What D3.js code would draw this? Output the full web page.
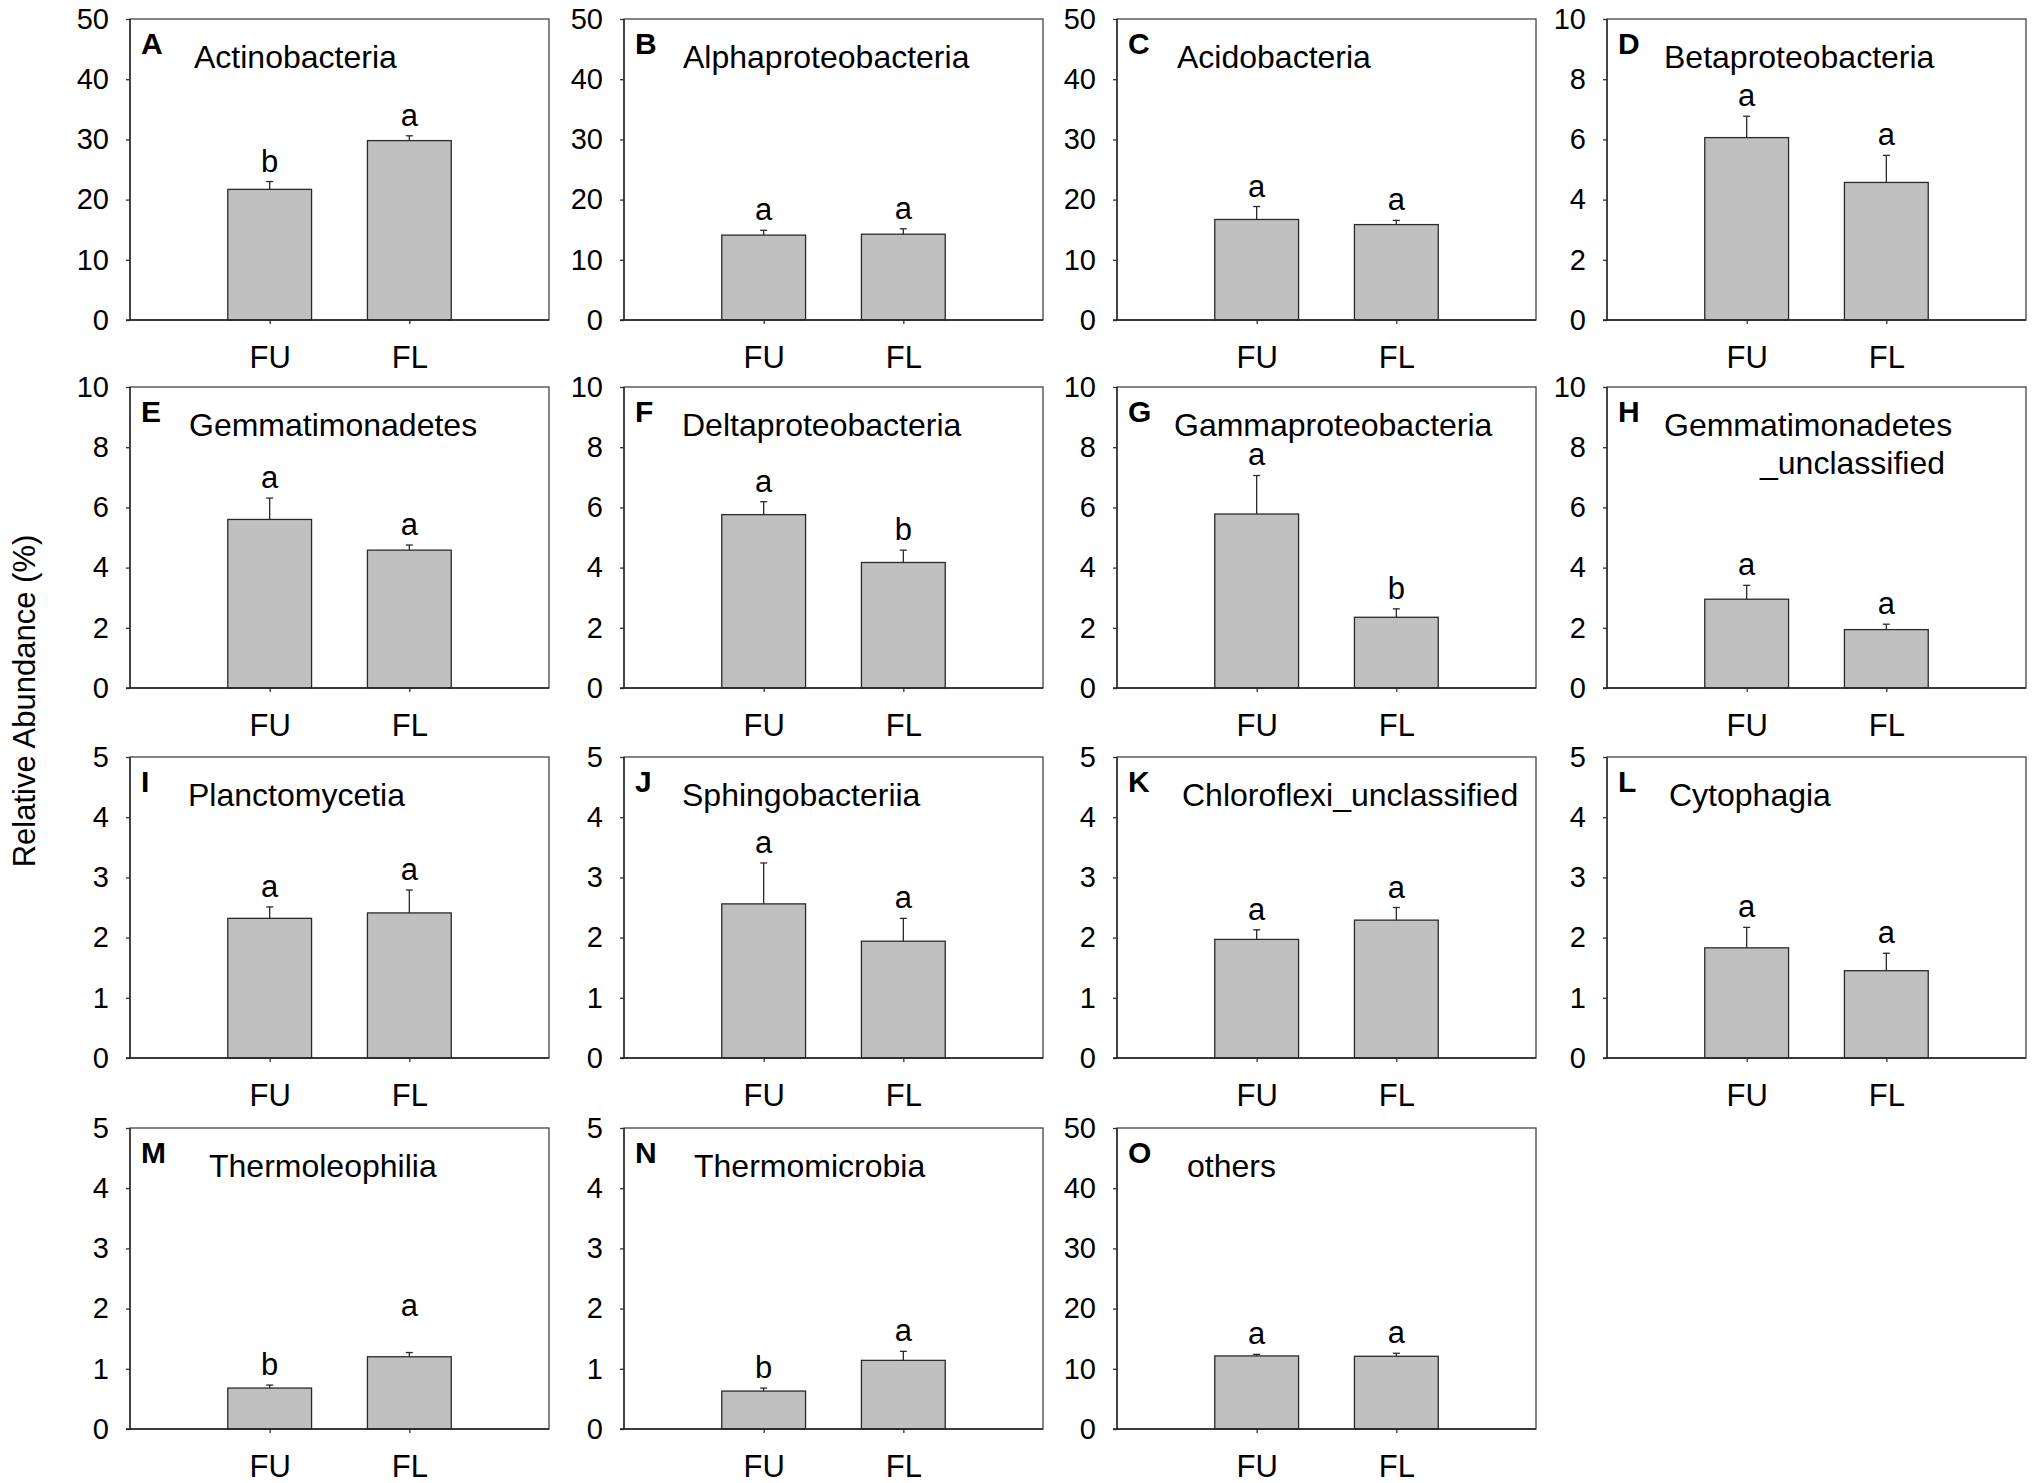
<!DOCTYPE html>
<html>
<head>
<meta charset="utf-8">
<script src="https://cdn.jsdelivr.net/npm/d3@7"></script>
<style>
  html, body { margin: 0; padding: 0; background: #fff; }
  svg { display: block; font-family: "Liberation Sans", Arial, Helvetica, sans-serif; }
</style>
</head>
<body>
<svg id="chart" width="2033" height="1483"></svg>
<script>
// ---- data ----
const panelLetters = ["A","B","C","D","E","F","G","H","I","J","K","L","M","N","O"];
const taxa = ["Actinobacteria","Alphaproteobacteria","Acidobacteria","Betaproteobacteria",
  "Gemmatimonadetes","Deltaproteobacteria","Gammaproteobacteria","Gemmatimonadetes\n_unclassified",
  "Planctomycetia","Sphingobacteriia","Chloroflexi_unclassified","Cytophagia",
  "Thermoleophilia","Thermomicrobia","others"];
const groups = ["FU","FL"];
const yMax  = [50,50,50,10, 10,10,10,10, 5,5,5,5, 5,5,50];
const yStep = [10,10,10,2,  2,2,2,2,     1,1,1,1, 1,1,10];
const fuMean = [21.7,14.1,16.7,6.06, 5.60,5.76,5.78,2.95, 2.32,2.56,1.97,1.83, 0.68,0.63,12.14];
const fuSE   = [1.3, 0.8, 2.15,0.71, 0.71,0.43,1.28,0.46, 0.19,0.68,0.16,0.34, 0.05,0.05,0.26];
const flMean = [29.8,14.25,15.85,4.57, 4.58,4.17,2.35,1.94, 2.41,1.94,2.29,1.45, 1.20,1.14,12.08];
const flSE   = [0.8, 0.9, 0.7, 0.9,  0.17,0.41,0.28,0.18, 0.38,0.38,0.21,0.29, 0.07,0.15,0.50];
const fuSig  = ["b","a","a","a", "a","a","a","a", "a","a","a","a", "b","b","a"];
const flSig  = ["a","a","a","a", "a","b","b","a", "a","a","a","a", "a","a","a"];
const yTitle = "Relative Abundance (%)";

// ---- layout (not data) ----
const colLeft = [130, 624, 1117, 1607];
const rowTop  = [19, 387, 757, 1128];
const W = 419, H = 301;
const titleDx = [64,59,60,57, 59,58,57,57, 58,58,65,62, 79,70,70];
const sigExtra = {12: [0, 27]}; // extra lift (px) for panel M letters

const svg = d3.select("#chart");

panelLetters.forEach((L, i) => {
  const col = i % 4, row = Math.floor(i / 4);
  const g = svg.append("g").attr("transform", `translate(${colLeft[col]},${rowTop[row]})`);

  const x = d3.scalePoint().domain(groups).range([0, W]).padding(1);
  const y = d3.scaleLinear().domain([0, yMax[i]]).range([H, 0]);
  const barW = W * 0.2;

  const rows = [
    {grp: "FU", mean: fuMean[i], se: fuSE[i], sig: fuSig[i], k: 0},
    {grp: "FL", mean: flMean[i], se: flSE[i], sig: flSig[i], k: 1}
  ];

  // bars
  g.selectAll("rect.bar").data(rows).join("rect")
    .attr("class", "bar")
    .attr("x", d => x(d.grp) - barW / 2)
    .attr("width", barW)
    .attr("y", d => y(d.mean))
    .attr("height", d => H - y(d.mean))
    .attr("fill", "#c0c0c0")
    .attr("stroke", "#2a2a2a")
    .attr("stroke-width", 1.3);

  // error bars (upper only)
  g.selectAll("line.err").data(rows).join("line")
    .attr("class", "err")
    .attr("x1", d => x(d.grp)).attr("x2", d => x(d.grp))
    .attr("y1", d => y(d.mean)).attr("y2", d => y(d.mean + d.se))
    .attr("stroke", "#2a2a2a").attr("stroke-width", 1.3);
  g.selectAll("line.cap").data(rows).join("line")
    .attr("class", "cap")
    .attr("x1", d => x(d.grp) - 3.5).attr("x2", d => x(d.grp) + 3.5)
    .attr("y1", d => y(d.mean + d.se)).attr("y2", d => y(d.mean + d.se))
    .attr("stroke", "#2a2a2a").attr("stroke-width", 1.3);

  // significance letters
  g.selectAll("text.sig").data(rows).join("text")
    .attr("class", "sig")
    .attr("x", d => x(d.grp))
    .attr("y", d => y(d.mean + d.se) - 10 - (sigExtra[i] ? sigExtra[i][d.k] : 0))
    .attr("text-anchor", "middle")
    .attr("font-size", 31)
    .attr("fill", "#000")
    .text(d => d.sig);

  // y axis
  const yAxis = d3.axisLeft(y).tickValues(d3.range(0, yMax[i] + 0.001, yStep[i]))
    .tickSize(4).tickPadding(17).tickFormat(d3.format("d"));
  const ya = g.append("g").call(yAxis);
  ya.select(".domain").remove();
  ya.selectAll(".tick line").attr("stroke", "#333").attr("stroke-width", 1.3);
  ya.selectAll(".tick text").attr("font-size", 29).attr("fill", "#000")
    .attr("font-family", "Liberation Sans, Arial, sans-serif");

  // x axis
  const xAxis = d3.axisBottom(x).tickSize(4);
  const xa = g.append("g").attr("transform", `translate(0,${H})`).call(xAxis);
  xa.select(".domain").remove();
  xa.selectAll(".tick line").attr("stroke", "#333").attr("stroke-width", 1.3);
  xa.selectAll(".tick text").attr("font-size", 31).attr("fill", "#000")
    .attr("y", 48).attr("dy", 0)
    .attr("font-family", "Liberation Sans, Arial, sans-serif");

  // frame
  g.append("rect").attr("x", 0).attr("y", 0).attr("width", W).attr("height", H)
    .attr("fill", "none").attr("stroke", "#444").attr("stroke-width", 1.3);
  g.append("line").attr("x1", -4).attr("x2", W).attr("y1", H).attr("y2", H)
    .attr("stroke", "#222").attr("stroke-width", 1.5);
  g.append("line").attr("x1", 0).attr("x2", 0).attr("y1", 0).attr("y2", H)
    .attr("stroke", "#222").attr("stroke-width", 1.3);

  // panel letter
  g.append("text").attr("x", 11).attr("y", 35)
    .attr("font-size", 30).attr("font-weight", "bold").attr("fill", "#000")
    .text(L);

  // title
  const lines = taxa[i].split("\n");
  const t = g.append("text").attr("font-size", 32).attr("fill", "#000");
  t.append("tspan").attr("x", titleDx[i]).attr("y", 49).text(lines[0]);
  if (lines[1]) {
    t.append("tspan").attr("x", titleDx[i] + 96).attr("y", 87).text(lines[1]);
  }
});

// shared y title
svg.append("text")
  .attr("transform", "translate(35,701) rotate(-90)")
  .attr("text-anchor", "middle")
  .attr("font-size", 31)
  .attr("fill", "#000")
  .text(yTitle);
</script>
</body>
</html>
